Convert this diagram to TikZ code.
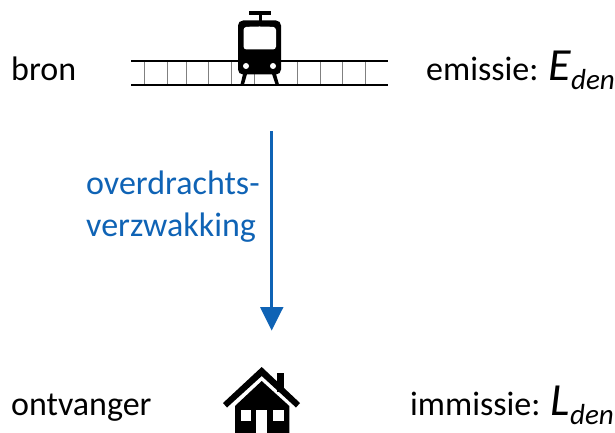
\documentclass[tikz,border=0pt]{standalone}
\usepackage{fontspec}
\setmainfont{Carlito}
\definecolor{arrowblue}{HTML}{0F63B5}
\tikzset{
  lbl/.style={anchor=base west,inner sep=0pt,font=\fontsize{34}{40}\selectfont},
  bluelbl/.style={lbl,text=arrowblue},
  rail/.style={line width=2pt,black},
  tie/.style={line width=0.9pt,black!50},
}
\newcommand{\quant}[2]{{\fontsize{46}{46}\selectfont\itshape #1}\raisebox{-9pt}{\fontsize{29}{29}\selectfont\itshape #2}}
\begin{document}
\begin{tikzpicture}[x=1pt,y=-1pt]
\useasboundingbox (0,0) rectangle (615,433);
% labels
\node[lbl] (bron) at (11,81) {bron};
\node[lbl] (emis) at (426,81) {emissie: \quant{E}{den}};
\node[lbl] (ontv) at (11,415) {ontvanger};
\node[lbl] (imm) at (410,415) {immissie: \quant{L}{den}};
\node[bluelbl] (od1) at (86,194) {overdrachts-};
\node[bluelbl] (od2) at (86,236) {verzwakking};
% track
\foreach \x in {144,167,186,208.5,231,254,297.5,320,342,365}
  \draw[tie] (\x,61.5) -- (\x,85);
\draw[rail] (131,61.5) -- (388,61.5);
\draw[rail] (131,85) -- (388,85);
% tram
\fill[black] (249,11.5) rectangle (271,15.5);
\fill[black] (258.5,15) rectangle (261.5,22);
\fill[black] (243,74) -- (247,74) -- (244,84.5) -- (240.5,84.5) -- cycle;
\fill[black] (272,74) -- (276,74) -- (279,84.5) -- (275.5,84.5) -- cycle;
\fill[black,rounded corners=5pt] (238,20.5) rectangle (281,74.5);
\fill[white,rounded corners=3pt] (243.5,27) -- (256,26.5) -- (263,26.5) -- (276,27) -- (276,49.5) -- (243.5,49.5) -- cycle;
\fill[white] (246,66) circle (3pt) (273,66) circle (3pt);
% arrow
\coordinate (arrowstart) at (271.5,131);
\coordinate (arrowend) at (271.5,309);
\draw[arrowblue,line width=3.6pt] (arrowstart) -- (arrowend);
\fill[arrowblue] (260,307) -- (283.5,307) -- (271.7,330.5) -- cycle;
% house
\fill[black] (276.7,372.7) rectangle (283.7,392);
\fill[black] (223,403) -- (261.7,367) -- (300,403) -- (296,407.5) -- (261.7,376) -- (227,407.5) -- cycle;
\fill[black] (235,433) -- (235,406) -- (261.7,381) -- (289.3,406) -- (289.3,433) -- cycle;
\fill[white] (240.7,410) rectangle (250.7,421);
\fill[white] (273.3,410) rectangle (284,421);
\fill[white] (256,410) rectangle (267.3,433);
\end{tikzpicture}
\end{document}
